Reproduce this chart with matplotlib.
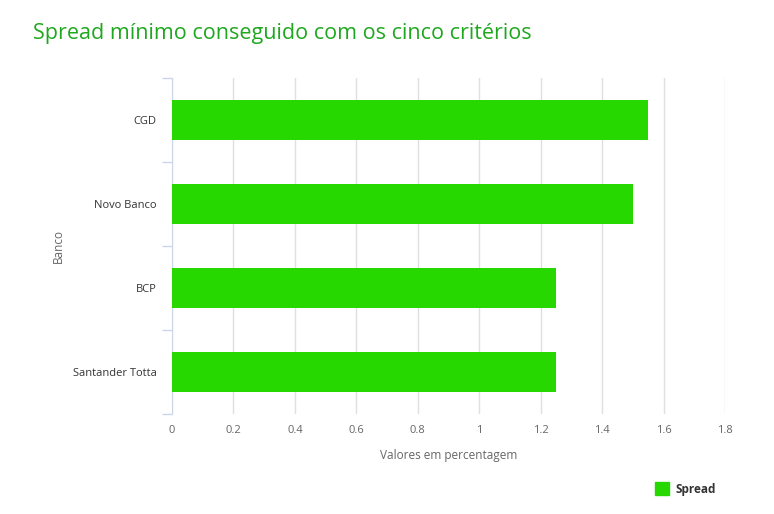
import matplotlib
matplotlib.use("Agg")
import matplotlib.pyplot as plt
from matplotlib.patches import Rectangle

categories = ["CGD", "Novo Banco", "BCP", "Santander Totta"]
values = [1.55, 1.50, 1.25, 1.25]
xticks = [0, 0.2, 0.4, 0.6, 0.8, 1.0, 1.2, 1.4, 1.6, 1.8]
xticklabels = ["0", "0.2", "0.4", "0.6", "0.8", "1", "1.2", "1.4", "1.6", "1.8"]
series_name = "Spread"

plt.rcParams['font.family'] = ['Open Sans', 'DejaVu Sans']

W, H = 774, 514
fig = plt.figure(figsize=(W/100, H/100), dpi=100)
ax = fig.add_axes([172/W, 1-414/H, (725-172)/W, (414-78)/H])

bar_color = "#26d800"
ypos = list(range(len(categories)))
ax.barh(ypos, values, height=0.48, color=bar_color, zorder=3)
ax.set_ylim(3.5, -0.5)
ax.set_xlim(0, 1.8)

ax.set_xticks(xticks)
ax.set_xticklabels(xticklabels)
ax.set_yticks(ypos)
ax.set_yticklabels(categories)
ax.set_yticks([-0.5, 0.5, 1.5, 2.5, 3.5], minor=True)

ax.tick_params(axis='y', which='major', length=0, pad=11, labelsize=8, labelcolor="#333333")
ax.tick_params(axis='y', which='minor', length=7.5, color="#ccd6eb", width=1)
ax.tick_params(axis='x', which='major', length=0, pad=8, labelsize=8, labelcolor="#666666")

ax.grid(axis='x', color="#e0e0e0", linewidth=1, zorder=0)
for s in ['top', 'right', 'bottom']:
    ax.spines[s].set_visible(False)
ax.spines['left'].set_color("#ccd6eb")
ax.spines['left'].set_zorder(2)

ax.set_xlabel("Valores em percentagem", fontsize=8.5, color="#666666", labelpad=9)
ax.set_ylabel("Banco", fontsize=8.5, color="#666666", labelpad=5.5)

fig.text(33/W, 1-33/H, "Spread mínimo conseguido com os cinco critérios",
         fontsize=15.5, color="#1fa81f", ha='left', va='center')

# legend
fig.patches.append(Rectangle((655/W, 1-495/H), 14/W, 13/H, transform=fig.transFigure,
                             color=bar_color, figure=fig))
fig.text(676/W, 1-489/H, series_name, fontsize=8.5, fontweight='bold',
         color="#333333", ha='left', va='center')

fig.savefig("out.png", dpi=100)
